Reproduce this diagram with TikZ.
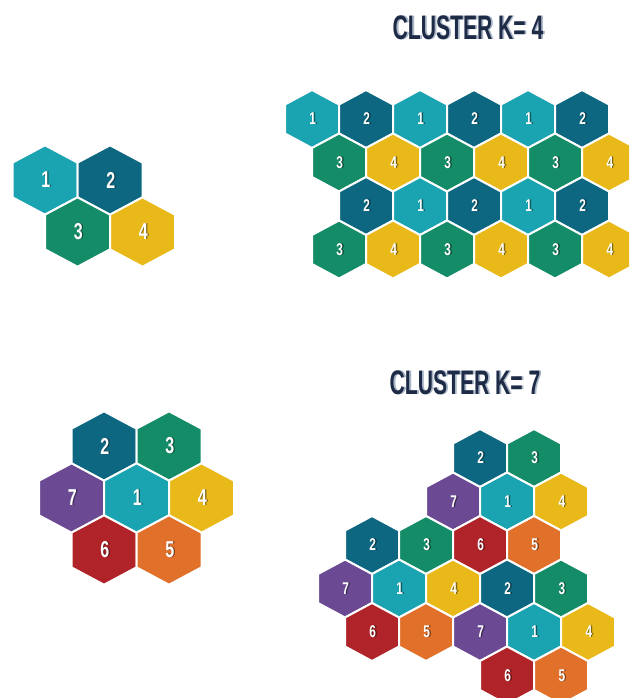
\documentclass[tikz,border=0pt]{standalone}
\usepackage{fontspec}
\setmainfont{Liberation Sans}
\definecolor{cA}{HTML}{1AA3B1}
\definecolor{cB}{HTML}{0D6781}
\definecolor{cC}{HTML}{148C68}
\definecolor{cD}{HTML}{E9B919}
\definecolor{cE}{HTML}{E0702A}
\definecolor{cF}{HTML}{B02328}
\definecolor{cG}{HTML}{6B4A93}
\definecolor{titlec}{HTML}{1E2B47}
\definecolor{titleshadow}{HTML}{A9B6C8}
\tikzset{
  hexfill/.style={draw=white, line width=2pt, line join=miter},
  digit/.style={inner sep=0pt, text=white},
  titletext/.style={inner sep=0pt, text=titlec},
}
% text with a drop shadow, set in one box
\newcommand\shadowed[3]{{\color{#1}\rlap{\hspace{#2}#3}}#3}
% #1 name, #2 x, #3 y, #4 half width, #5 half height, #6 colour, #7 label, #8 font size
\newcommand\hexcell[8]{%
  \fill[#6, hexfill] (#2,#3) +(0,-#5) -- +(#4,-#5/2) -- +(#4,#5/2) -- +(0,#5)
     -- +(-#4,#5/2) -- +(-#4,-#5/2) -- cycle;
  \node[digit] (#1) at (#2+0.8,#3) {\fontsize{#8}{#8}\selectfont\bfseries
     \scalebox{0.7}[1]{\shadowed{#6!55!black}{1.8pt}{#7}}};
}
\newcommand\clustertitle[4]{%
  \node[titletext] (#1) at (#2,#3) {\fontsize{34}{34}\selectfont\bfseries
     \scalebox{0.62}[1]{\shadowed{titleshadow}{3pt}{#4}}};
}
\begin{document}
\begin{tikzpicture}[x=1pt,y=-1pt]
\useasboundingbox (0,0) rectangle (629,698);
\fill[white] (0,0) rectangle (629,698);
\clip (0,0) rectangle (629,698);

% ---- titles
\clustertitle{t4}{468}{28}{CLUSTER K= 4}
\clustertitle{t7}{465}{383}{CLUSTER K= 7}

% ---- top-left cluster of 4
\hexcell{a1}{45}{180}{32.5}{34.7}{cA}{1}{23}
\hexcell{a2}{110}{180}{32.5}{34.7}{cB}{2}{23}
\hexcell{a3}{77.5}{232}{32.5}{34.7}{cC}{3}{23}
\hexcell{a4}{142.5}{232}{32.5}{34.7}{cD}{4}{23}

% ---- top-right tiling K=4
\foreach \k/\c/\l in {0/cA/1,1/cB/2,2/cA/1,3/cB/2,4/cA/1,5/cB/2}
  {\hexcell{r1\k}{312+54*\k}{119}{27}{29}{\c}{\l}{17}}
\foreach \k/\c/\l in {0/cC/3,1/cD/4,2/cC/3,3/cD/4,4/cC/3,5/cD/4}
  {\hexcell{r2\k}{339+54*\k}{162.5}{27}{29}{\c}{\l}{17}}
\foreach \k/\c/\l in {0/cB/2,1/cA/1,2/cB/2,3/cA/1,4/cB/2}
  {\hexcell{r3\k}{366+54*\k}{206}{27}{29}{\c}{\l}{17}}
\foreach \k/\c/\l in {0/cC/3,1/cD/4,2/cC/3,3/cD/4,4/cC/3,5/cD/4}
  {\hexcell{r4\k}{339+54*\k}{249.5}{27}{29}{\c}{\l}{17}}

% ---- bottom-left cluster of 7
\hexcell{b2}{104}{446}{32.5}{34.7}{cB}{2}{23}
\hexcell{b3}{169}{446}{32.5}{34.7}{cC}{3}{23}
\hexcell{b7}{71.5}{498}{32.5}{34.7}{cG}{7}{23}
\hexcell{b1}{136.5}{498}{32.5}{34.7}{cA}{1}{23}
\hexcell{b4}{201.5}{498}{32.5}{34.7}{cD}{4}{23}
\hexcell{b6}{104}{550}{32.5}{34.7}{cF}{6}{23}
\hexcell{b5}{169}{550}{32.5}{34.7}{cE}{5}{23}

% ---- bottom-right tiling K=7
\foreach \k/\c/\l in {2.5/cB/2,3.5/cC/3}
  {\hexcell{sA}{345+54*\k}{458}{27}{29}{\c}{\l}{17}}
\foreach \k/\c/\l in {2/cG/7,3/cA/1,4/cD/4}
  {\hexcell{sB}{345+54*\k}{501.5}{27}{29}{\c}{\l}{17}}
\foreach \k/\c/\l in {0.5/cB/2,1.5/cC/3,2.5/cF/6,3.5/cE/5}
  {\hexcell{sC}{345+54*\k}{545}{27}{29}{\c}{\l}{17}}
\foreach \k/\c/\l in {0/cG/7,1/cA/1,2/cD/4,3/cB/2,4/cC/3}
  {\hexcell{sD}{345+54*\k}{588.5}{27}{29}{\c}{\l}{17}}
\foreach \k/\c/\l in {0.5/cF/6,1.5/cE/5,2.5/cG/7,3.5/cA/1,4.5/cD/4}
  {\hexcell{sE}{345+54*\k}{632}{27}{29}{\c}{\l}{17}}
\foreach \k/\c/\l in {3/cF/6,4/cE/5}
  {\hexcell{sF}{345+54*\k}{675.5}{27}{29}{\c}{\l}{17}}
\end{tikzpicture}
\end{document}
